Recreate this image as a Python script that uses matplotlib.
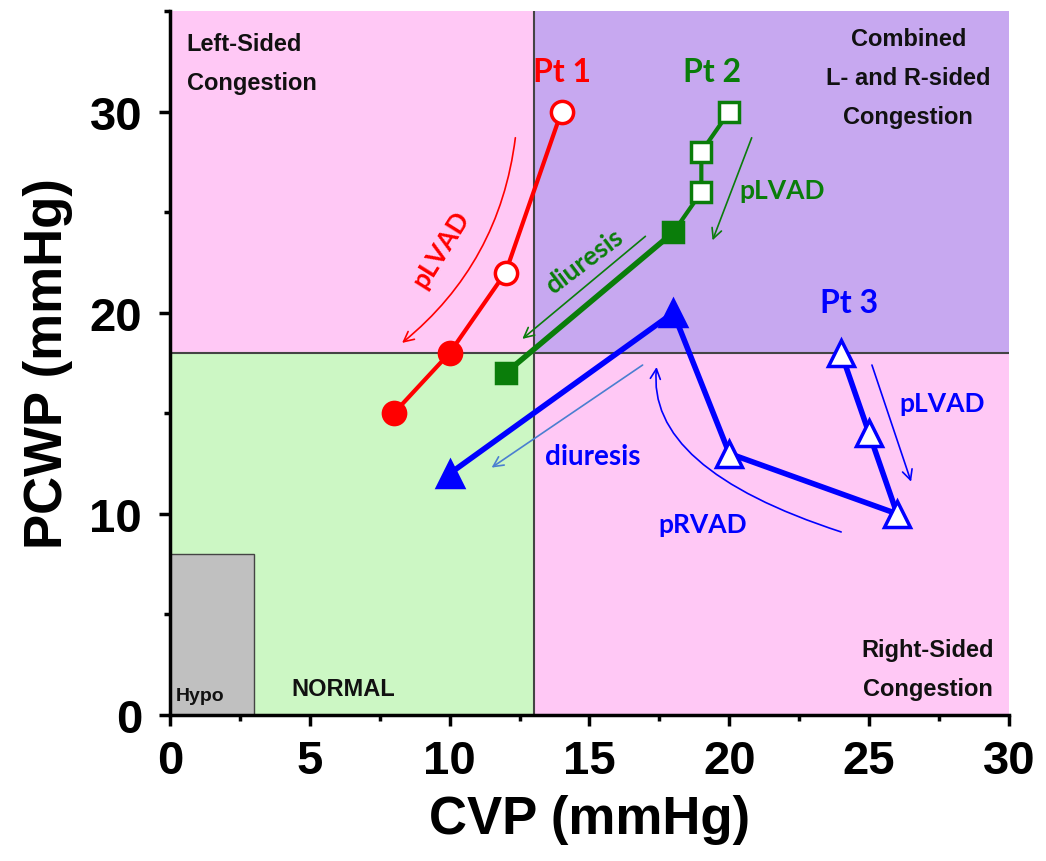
import numpy as np
import matplotlib.pyplot as plt
from matplotlib.patches import Rectangle

# patient trajectories (CVP, PCWP)
pt1_cvp = [8, 10, 12, 14]
pt1_pcwp = [15, 18, 22, 30]
pt1_filled = [True, True, False, False]

pt2_cvp = [12, 18, 19, 19, 20]
pt2_pcwp = [17, 24, 26, 28, 30]
pt2_filled = [True, True, False, False, False]

pt3_cvp = [10, 18, 20, 26, 25, 24]
pt3_pcwp = [12, 20, 13, 10, 14, 18]
pt3_filled = [True, True, False, False, False, False]

cvp_cut = 13
pcwp_cut = 18

RED = '#ff0000'
GREEN = '#0a7d0a'
BLUE = '#0000ff'

plt.rcParams['font.family'] = ['Liberation Sans', 'DejaVu Sans']
plt.rcParams['font.weight'] = 'bold'

fig = plt.figure(figsize=(10.46, 8.62), dpi=100)
ax = fig.add_axes([0.1625, 0.1694, 0.8021, 0.8166])
ax.set_xlim(0, 30)
ax.set_ylim(0, 35)

# background regions
ax.add_patch(Rectangle((0, 0), cvp_cut, pcwp_cut, fc='#ccf7c4', ec='none', zorder=0))
ax.add_patch(Rectangle((0, pcwp_cut), cvp_cut, 35 - pcwp_cut, fc='#ffc8f5', ec='none', zorder=0))
ax.add_patch(Rectangle((cvp_cut, 0), 30 - cvp_cut, pcwp_cut, fc='#ffc8f5', ec='none', zorder=0))
ax.add_patch(Rectangle((cvp_cut, pcwp_cut), 30 - cvp_cut, 35 - pcwp_cut, fc='#c7a8f0', ec='none', zorder=0))
ax.add_patch(Rectangle((0, 0), 3, 8, fc='#c0c0c0', ec='#444444', lw=1, zorder=1))
ax.plot([cvp_cut, cvp_cut], [0, 35], color='#444444', lw=1.5, zorder=1)
ax.plot([0, 30], [pcwp_cut, pcwp_cut], color='#444444', lw=1.5, zorder=1)

def draw_patient(cvp, pcwp, filled, color, marker, ms, lw, thick_first=None):
    if thick_first:
        ax.plot(cvp[:2], pcwp[:2], color=color, lw=thick_first, zorder=3)
        ax.plot(cvp[1:], pcwp[1:], color=color, lw=lw, zorder=3)
    else:
        ax.plot(cvp, pcwp, color=color, lw=lw, zorder=3)
    for x, y, f in zip(cvp, pcwp, filled):
        ax.plot(x, y, marker=marker, ms=ms, mec=color, mew=2.5,
                mfc=color if f else 'white', zorder=4)

draw_patient(pt1_cvp, pt1_pcwp, pt1_filled, RED, 'o', 16, 3)
draw_patient(pt2_cvp, pt2_pcwp, pt2_filled, GREEN, 's', 14, 3, thick_first=4)
draw_patient(pt3_cvp, pt3_pcwp, pt3_filled, BLUE, '^', 19, 4)

lab = dict(family=['Lato', 'DejaVu Sans'], fontweight='bold')
ax.text(14.0, 32.0, 'Pt 1', color=RED, fontsize=23, ha='center', va='center', **lab)
ax.text(19.4, 32.0, 'Pt 2', color=GREEN, fontsize=23, ha='center', va='center', **lab)
ax.text(24.3, 20.5, 'Pt 3', color=BLUE, fontsize=23, ha='center', va='center', **lab)

# arrows
def arrow(start, end, color, rad=0.0, lw=1.2, style=None):
    cs = style if style else f'arc3,rad={rad}'
    ax.annotate('', xy=end, xytext=start,
                arrowprops=dict(arrowstyle='->', color=color, lw=lw,
                                mutation_scale=18, connectionstyle=cs,
                                shrinkA=0, shrinkB=0), zorder=2)

arrow((12.35, 28.7), (8.3, 18.5), RED, rad=-0.2)
ax.text(9.7, 23.2, 'pLVAD', color=RED, fontsize=19, rotation=58, ha='center', va='center', **lab)

arrow((17.0, 23.8), (12.6, 18.7), GREEN)
ax.text(14.8, 22.6, 'diuresis', color=GREEN, fontsize=19, rotation=37, ha='center', va='center', **lab)

arrow((20.8, 28.7), (19.4, 23.6), GREEN)
ax.text(21.9, 26.1, 'pLVAD', color=GREEN, fontsize=19, ha='center', va='center', **lab)

arrow((16.9, 17.4), (11.5, 12.3), '#4a7fd0')
ax.text(15.1, 12.9, 'diuresis', color=BLUE, fontsize=20, ha='center', va='center', **lab)

arrow((24.0, 9.1), (17.4, 17.3), BLUE, style='angle3,angleA=162,angleB=84')
ax.text(19.05, 9.5, 'pRVAD', color=BLUE, fontsize=19, ha='center', va='center', **lab)

arrow((25.1, 17.4), (26.5, 11.6), BLUE)
ax.text(27.6, 15.5, 'pLVAD', color=BLUE, fontsize=19, ha='center', va='center', **lab)

# region labels
reg = dict(fontsize=17, fontweight='bold', color='#111111', linespacing=1.9)
ax.text(0.6, 32.4, 'Left-Sided\nCongestion', ha='left', va='center', **reg)
ax.text(26.4, 31.7, 'Combined\nL- and R-sided\nCongestion', ha='center', va='center', **reg)
ax.text(27.1, 2.3, 'Right-Sided\nCongestion', ha='center', va='center', **reg)
ax.text(6.2, 1.3, 'NORMAL', ha='center', va='center', fontsize=17, fontweight='bold', color='#111111')
ax.text(0.2, 0.95, 'Hypo', ha='left', va='center', fontsize=14, fontweight='bold', color='#111111')

# axes styling
for s in ['top', 'right']:
    ax.spines[s].set_visible(False)
for s in ['left', 'bottom']:
    ax.spines[s].set_linewidth(2.5)
ax.set_xticks(np.arange(0, 31, 5))
ax.set_yticks([0, 10, 20, 30])
ax.set_xticks(np.arange(2.5, 30, 5), minor=True)
ax.set_yticks([5, 15, 25, 35], minor=True)
ax.tick_params(which='major', direction='out', length=8, width=2.5, labelsize=34)
ax.tick_params(axis='x', which='major', pad=9)
ax.tick_params(axis='y', which='major', pad=12)
ax.tick_params(which='minor', direction='out', length=4.5, width=2.5)
for t in ax.get_xticklabels() + ax.get_yticklabels():
    t.set_fontweight('bold')
ax.set_xlabel('CVP (mmHg)', fontsize=38, fontweight='bold', labelpad=8)
ax.set_ylabel('PCWP (mmHg)', fontsize=38, fontweight='bold', labelpad=12)

fig.savefig('out.png', dpi=100)
